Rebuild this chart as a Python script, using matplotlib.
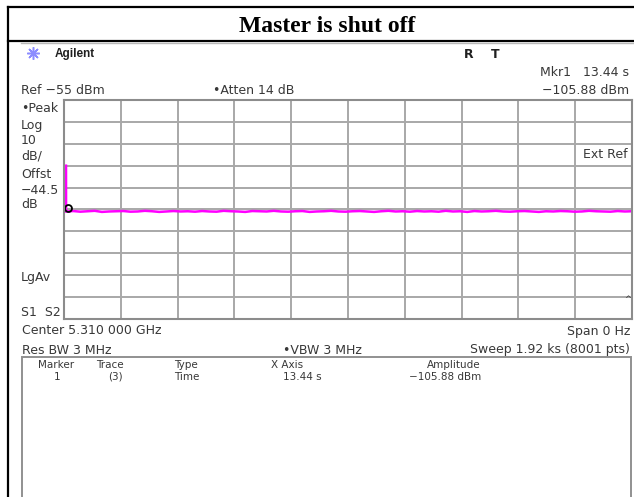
import numpy as np
import matplotlib
matplotlib.use("Agg")
from matplotlib import pyplot as plt
from matplotlib.lines import Line2D
from matplotlib.patches import Rectangle

W, H = 634, 497

# analyzer settings
ref_level = -55
db_per_div = 10
sweep_s = 1920
n_div = 10

# trace: start spike, then noise floor (dBm)
spike_t = [0.0, 6.8, 7.0]
spike_amp = [-85.0, -85.0, -105.9]
floor_amp = [-105.9, -105.7, -106.0, -105.8, -105.6, -106.1, -105.9, -105.8, -105.7, -106.0,
             -105.9, -105.6, -105.8, -106.1, -105.9, -105.7, -105.9, -105.8, -106.0, -105.7,
             -105.9, -106.0, -105.6, -105.8, -105.9, -106.1, -105.7, -105.8, -105.9, -105.6,
             -105.9, -106.0, -105.8, -105.7, -106.1, -105.9, -105.8, -105.6, -105.9, -106.0,
             -105.8, -105.7, -105.9, -106.1, -105.8, -105.6, -105.9, -105.8, -106.0, -105.7,
             -105.9, -105.8, -106.0, -105.6, -105.9, -105.8, -106.1, -105.7, -105.9, -105.8,
             -105.6, -105.9, -106.0, -105.8, -105.7, -105.9, -106.1, -105.8, -105.9, -105.7,
             -105.8, -106.0, -105.9, -105.6, -105.8, -105.9, -106.0, -105.7, -105.9, -105.8]
floor_t = np.linspace(7.0, sweep_s, len(floor_amp))

mkr_t = 13.44
mkr_amp = -105.88

left_labels = [("\u2022Peak", 107), ("Log", 124), ("10", 140), ("dB/", 155),
               ("Offst", 173), ("\u221244.5", 189), ("dB", 203), ("LgAv", 277), ("S1  S2", 312)]

tbl_header = [("Marker", 56, "center"), ("Trace", 110, "center"), ("Type", 174, "left"),
              ("X Axis", 271, "left"), ("Amplitude", 427, "left")]
tbl_row = [("1", 57, "center"), ("(3)", 115, "center"), ("Time", 174, "left"),
           ("13.44 s", 283, "left"), ("\u2212105.88 dBm", 409, "left")]

fig = plt.figure(figsize=(W / 100, H / 100), dpi=100)
fig.patch.set_facecolor("white")

TXT = "#383838"


def ftxt(x, y, s, size=9, ha="left", **kw):
    kw.setdefault("color", TXT)
    kw.setdefault("family", "DejaVu Sans")
    fig.text(x / W, 1 - y / H, s, fontsize=size, ha=ha, va="baseline", **kw)


def fline(x0, y0, x1, y1, **kw):
    fig.add_artist(Line2D([x0 / W, x1 / W], [1 - y0 / H, 1 - y1 / H], transform=fig.transFigure, **kw))


# outer frame and title row
fline(8, 7, 634, 7, color="black", lw=1.6)
fline(8, 7, 8, 497, color="black", lw=1.6)
fline(8, 41, 634, 41, color="black", lw=1.6)
fline(21, 43, 634, 43, color="#b8b8b8", lw=1.0)
ftxt(327, 32, "Master is shut off", size=17, ha="center", family="Liberation Serif",
     weight="bold", color="black")

# header line
fig.add_artist(Line2D([33 / W], [1 - 53 / H], marker=(8, 2, 0), ms=9, mew=1.1,
                      color="#8c8cff", transform=fig.transFigure))
ftxt(55, 57.5, "Agilent", size=8.5, family="Liberation Sans", weight="bold", color="#202020")
ftxt(464, 57.5, "R", size=9, weight="bold", color="#202020")
ftxt(491, 57.5, "T", size=9, weight="bold", color="#202020")
ftxt(629, 76.5, "Mkr1   13.44 s", ha="right")
ftxt(21, 94.5, "Ref \u221255 dBm")
ftxt(213, 94.5, "\u2022Atten 14 dB")
ftxt(629, 94.5, "\u2212105.88 dBm", ha="right")

for s, y in left_labels:
    ftxt(21, y + 4.5, s)

# graticule
ax = fig.add_axes([64 / W, 1 - 319 / H, 568 / W, 219 / H])
ax.set_xlim(0, sweep_s)
ax.set_ylim(ref_level - n_div * db_per_div, ref_level)
ax.set_xticks(np.linspace(0, sweep_s, n_div + 1))
ax.set_yticks(np.arange(ref_level - n_div * db_per_div, ref_level + 1, db_per_div))
ax.tick_params(length=0, labelbottom=False, labelleft=False)
ax.grid(True, color="#a8a8a8", lw=1.4)
for sp in ax.spines.values():
    sp.set_color("#8c8c8c")
    sp.set_linewidth(1.5)

ax.plot(spike_t + list(floor_t), spike_amp + floor_amp, color="#ff00ff", lw=1.8, solid_joinstyle="miter")
ax.plot([mkr_t], [mkr_amp + 1.4], "o", ms=5, mfc="none", mec="black", mew=1.3)
ax.text(0.993, 0.749, "Ext Ref", transform=ax.transAxes, ha="right", va="center", fontsize=9,
        color=TXT, bbox=dict(facecolor="white", edgecolor="none", pad=1.0))
ax.text(0.998, 0.09, "^", transform=ax.transAxes, ha="right", va="center", fontsize=6, color=TXT)

# footer lines
ftxt(22, 334.5, "Center 5.310 000 GHz")
ftxt(630, 334.5, "Span 0 Hz", ha="right")
ftxt(22, 353.5, "Res BW 3 MHz")
ftxt(283, 353.5, "\u2022VBW 3 MHz")
ftxt(630, 353.5, "Sweep 1.92 ks (8001 pts)", ha="right")

# marker table box
fig.add_artist(Rectangle((22 / W, -0.05), (631 - 22) / W, 0.05 + 1 - 357 / H,
                         transform=fig.transFigure, fill=False, edgecolor="#909090", lw=1.4))
for s, x, ha in tbl_header:
    ftxt(x, 367.5, s, size=7.5, ha=ha)
for s, x, ha in tbl_row:
    ftxt(x, 379.5, s, size=7.5, ha=ha)

fig.savefig("out.png", dpi=100)
